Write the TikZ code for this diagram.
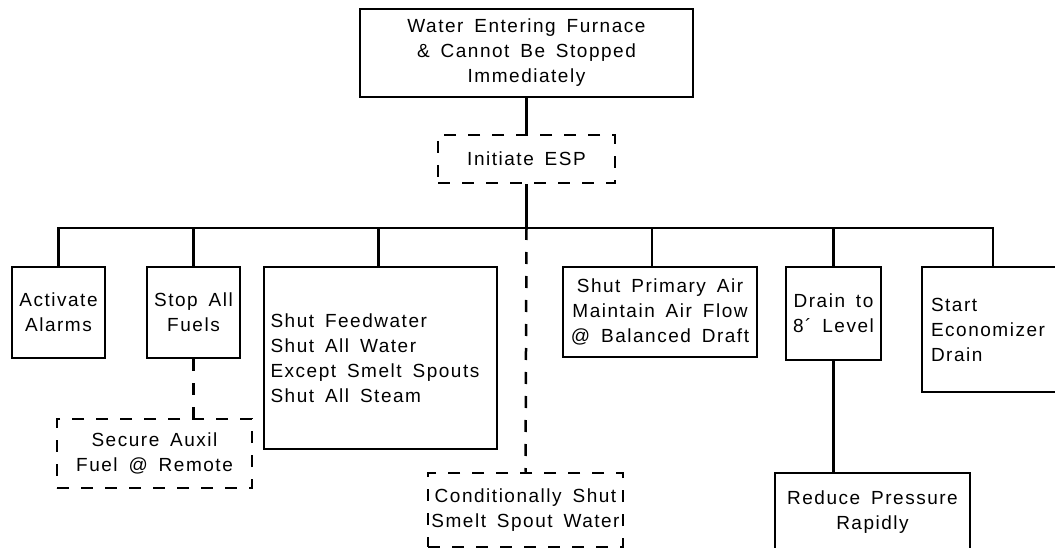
\documentclass[tikz,border=0pt]{standalone}
\usepackage{fontspec}
\setmainfont{Liberation Sans}[LetterSpace=8,WordSpace=1.6]
\begin{document}
\begin{tikzpicture}[x=1pt,y=-1pt,
  box/.style={draw,line width=2.5pt,inner sep=0pt,align=center,font=\fontsize{19}{25}\selectfont},
  dbox/.style={box,dash pattern=on 12pt off 12pt},
  conn/.style={line width=2.5pt},
  dconn/.style={line width=2.5pt,dash pattern=on 12pt off 12pt}]
\useasboundingbox (0,0) rectangle (1055,548);
\node[box,minimum width=333pt,minimum height=88pt] (top) at (526.5,53) {Water Entering Furnace\\\& Cannot Be Stopped\\Immediately};
\node[dbox,minimum width=177pt,minimum height=48pt] (esp) at (526.5,159) {Initiate ESP};
\node[box,minimum width=93pt,minimum height=91pt] (alarms) at (58.5,312.5) {Activate\\Alarms};
\node[box,minimum width=93pt,minimum height=91pt] (stop) at (193.5,312.5) {Stop All\\Fuels};
\node[box,minimum width=233pt,minimum height=182pt,align=left,text width=220pt] (feed) at (380.5,358) {\spaceskip=0pt\xspaceskip=0pt\relax Shut Feedwater\\Shut All Water\\Except Smelt Spouts\\Shut All Steam};
\node[box,minimum width=194pt,minimum height=90pt] (primary) at (660,312) {Shut Primary Air\\Maintain Air Flow\\@ Balanced Draft};
\node[box,minimum width=95pt,minimum height=93pt] (drain) at (833.5,313.5) {Drain to\\8´ Level};
\node[box,minimum width=142pt,minimum height=125pt,align=left,text width=124pt] (econ) at (993,329.5) {\spaceskip=0pt\xspaceskip=0pt\relax Start\\Economizer\\Drain};
\node[dbox,minimum width=195pt,minimum height=69pt] (aux) at (154.5,453.5) {Secure Auxil\\Fuel @ Remote};
\node[dbox,minimum width=195pt,minimum height=74pt] (cond) at (525.5,510) {Conditionally Shut\\Smelt Spout Water};
\node[box,minimum width=195pt,minimum height=78pt] (reduce) at (872.5,512) {Reduce Pressure\\Rapidly};
\coordinate (bus) at (526.5,228);
\draw[conn] (top.south) -- (esp.north);
\draw[conn] (esp.south) -- (bus);
\draw[conn] (bus) -| (alarms.north);
\draw[conn] (bus) -| (stop.north);
\draw[conn] (bus) -| ([xshift=-2pt]feed.north);
\draw[conn] (bus) -| ([xshift=-8pt]primary.north);
\draw[conn] (bus) -| (drain.north);
\draw[conn] (bus) -| (econ.north);
\draw[dconn] (bus) -- (cond.north);
\draw[dconn] (stop.south) -- (stop.south |- aux.north);
\draw[conn] (drain.south) -- (drain.south |- reduce.north);
\end{tikzpicture}
\end{document}
